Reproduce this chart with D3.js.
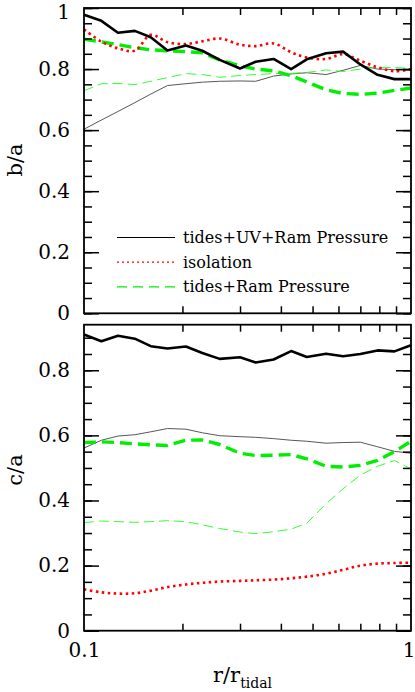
<!DOCTYPE html>
<html>
<head>
<meta charset="utf-8">
<script src="https://cdn.jsdelivr.net/npm/d3@7"></script>
<style>
body { margin: 0; background: #fff; }
</style>
</head>
<body>
<div id="chart"></div>
<script>
// radial bins, r / r_tidal
var rBins = [0.1, 0.113, 0.127, 0.143, 0.16, 0.18, 0.205, 0.23, 0.26, 0.3,
             0.335, 0.38, 0.43, 0.48, 0.55, 0.62, 0.7, 0.79, 0.89, 1.0];

// b/a (top panel)
var baUV      = [0.978, 0.958, 0.919, 0.925, 0.904, 0.861, 0.877, 0.86, 0.83, 0.802,
                 0.824, 0.833, 0.80, 0.832, 0.852, 0.857, 0.815, 0.781, 0.767, 0.767];
var baUVThin  = [0.603, 0.633, 0.661, 0.69, 0.718, 0.746, 0.752, 0.757, 0.76, 0.761,
                 0.76, 0.777, 0.784, 0.788, 0.782, 0.796, 0.812, 0.80, 0.798, 0.797];
var baIso     = [0.93, 0.89, 0.868, 0.86, 0.912, 0.888, 0.882, 0.891, 0.90, 0.88,
                 0.875, 0.884, 0.855, 0.838, 0.833, 0.849, 0.827, 0.806, 0.793, 0.80];
var baRP      = [0.898, 0.889, 0.88, 0.87, 0.863, 0.86, 0.857, 0.853, 0.83, 0.811,
                 0.80, 0.794, 0.778, 0.758, 0.732, 0.72, 0.717, 0.721, 0.73, 0.738];
var baRPThin  = [0.729, 0.752, 0.753, 0.749, 0.76, 0.772, 0.785, 0.782, 0.773, 0.779,
                 0.782, 0.785, 0.786, 0.789, 0.797, 0.792, 0.80, 0.806, 0.805, 0.802];

// c/a (bottom panel)
var caUV      = [0.91, 0.889, 0.906, 0.897, 0.874, 0.867, 0.873, 0.853, 0.835, 0.84,
                 0.824, 0.833, 0.859, 0.841, 0.851, 0.843, 0.85, 0.861, 0.858, 0.877];
var caUVThin  = [0.561, 0.585, 0.598, 0.602, 0.611, 0.621, 0.619, 0.608, 0.599, 0.596,
                 0.594, 0.59, 0.585, 0.582, 0.576, 0.578, 0.579, 0.565, 0.551, 0.545];
var caIso     = [0.127, 0.118, 0.114, 0.115, 0.123, 0.134, 0.142, 0.147, 0.151, 0.153,
                 0.155, 0.157, 0.161, 0.166, 0.175, 0.187, 0.20, 0.206, 0.208, 0.209];
var caRP      = [0.578, 0.58, 0.578, 0.574, 0.571, 0.569, 0.585, 0.586, 0.572, 0.545,
                 0.538, 0.539, 0.541, 0.528, 0.505, 0.503, 0.508, 0.523, 0.55, 0.582];
var caRPThin  = [0.332, 0.337, 0.335, 0.333, 0.335, 0.338, 0.335, 0.325, 0.314, 0.303,
                 0.298, 0.304, 0.312, 0.33, 0.39, 0.436, 0.478, 0.505, 0.523, 0.497];

var yTicksTop = [0, 0.2, 0.4, 0.6, 0.8, 1];
var yTicksBottom = [0, 0.2, 0.4, 0.6, 0.8];
var xMinorTicks = [0.2, 0.3, 0.4, 0.5, 0.6, 0.7, 0.8, 0.9];
var xTickLabels = [0.1, 1];
var legendLabels = ["tides+UV+Ram Pressure", "isolation", "tides+Ram Pressure"];

var width = 415, height = 692;
var font = "'DejaVu Serif', serif";

var svg = d3.select("#chart").append("svg")
    .attr("width", width)
    .attr("height", height)
    .style("font-family", font);

var x = d3.scaleLog().domain([0.1, 1]).range([84, 411]);

// line styles
var styles = {
    uv:     { stroke: "#000", width: 2.6, dash: null },
    uvThin: { stroke: "#444", width: 0.9, dash: null },
    iso:    { stroke: "#ff0000", width: 2.6, dash: "2.5,3.5" },
    rp:     { stroke: "#00ee00", width: 3.4, dash: "12,6" },
    rpThin: { stroke: "#33ff33", width: 1, dash: "10,5" }
};

function fmt(d) {
    if (d === 0) return "0";
    if (d === 1) return "1";
    return d.toFixed(1);
}

function drawPanel(top, bottom, yMax, yTicks, series, showX) {
    var y = d3.scaleLinear().domain([0, yMax]).range([bottom, top]);
    var g = svg.append("g");

    // lines first, frame on top
    var lines = g.append("g");
    series.forEach(function (s) {
        var st = styles[s.style];
        var line = d3.line()
            .x(function (d, i) { return x(rBins[i]); })
            .y(function (d) { return y(d); })
            .curve(s.style === "iso" ? d3.curveCatmullRom : d3.curveLinear);
        lines.append("path")
            .datum(s.values)
            .attr("d", line)
            .attr("fill", "none")
            .attr("stroke", st.stroke)
            .attr("stroke-width", st.width)
            .attr("stroke-dasharray", st.dash)
            .attr("stroke-linejoin", "round");
    });

    var minor = d3.range(0, yMax + 0.001, 0.05);

    // left axis with labels
    g.append("g")
        .attr("transform", "translate(" + x.range()[0] + ",0)")
        .call(d3.axisLeft(y).tickValues(yTicks).tickSize(-15).tickSizeOuter(0).tickPadding(14).tickFormat(fmt));
    g.append("g")
        .attr("transform", "translate(" + x.range()[0] + ",0)")
        .call(d3.axisLeft(y).tickValues(minor).tickSize(-8).tickSizeOuter(0).tickFormat(""));
    // right axis
    g.append("g")
        .attr("transform", "translate(" + x.range()[1] + ",0)")
        .call(d3.axisRight(y).tickValues(yTicks).tickSize(-15).tickSizeOuter(0).tickFormat(""));
    g.append("g")
        .attr("transform", "translate(" + x.range()[1] + ",0)")
        .call(d3.axisRight(y).tickValues(minor).tickSize(-8).tickSizeOuter(0).tickFormat(""));
    // top and bottom x ticks
    g.append("g")
        .attr("transform", "translate(0," + top + ")")
        .call(d3.axisTop(x).tickValues(xMinorTicks).tickSize(-7).tickSizeOuter(0).tickFormat(""));
    g.append("g")
        .attr("transform", "translate(0," + bottom + ")")
        .call(d3.axisBottom(x).tickValues(xMinorTicks).tickSize(-7).tickSizeOuter(0).tickFormat(""));

    if (showX) {
        g.append("g")
            .attr("class", "xlab")
            .attr("transform", "translate(0," + bottom + ")")
            .call(d3.axisBottom(x).tickValues(xTickLabels).tickSize(0).tickSizeOuter(0).tickPadding(12)
                .tickFormat(function (d) { return d === 1 ? "1" : "0.1"; }));
        // keep the "1" inside the window
        g.selectAll(".xlab .tick text")
            .filter(function (d) { return d === 1; })
            .attr("text-anchor", "end")
            .attr("dx", 4);
    }

    g.selectAll(".domain").remove();
    g.selectAll(".tick line").attr("stroke", "#000").attr("stroke-width", 1.5);
    g.selectAll(".tick text")
        .attr("fill", "#000")
        .style("font-family", font)
        .style("font-size", "20px");
    // nudge the top label down so it is not clipped
    g.selectAll(".tick text")
        .filter(function (d) { return d === 1 && yMax === 1; })
        .attr("dy", "0.5em");

    // frame
    g.append("rect")
        .attr("x", x.range()[0])
        .attr("y", top)
        .attr("width", x.range()[1] - x.range()[0])
        .attr("height", bottom - top)
        .attr("fill", "none")
        .attr("stroke", "#000")
        .attr("stroke-width", 1.8);

    return y;
}

drawPanel(8, 313.3, 1, yTicksTop, [
    { values: baUVThin, style: "uvThin" },
    { values: baRPThin, style: "rpThin" },
    { values: baRP, style: "rp" },
    { values: baIso, style: "iso" },
    { values: baUV, style: "uv" }
], false);

drawPanel(324.7, 630.7, 0.94, yTicksBottom, [
    { values: caUVThin, style: "uvThin" },
    { values: caRPThin, style: "rpThin" },
    { values: caRP, style: "rp" },
    { values: caIso, style: "iso" },
    { values: caUV, style: "uv" }
], true);

// legend
var legendStyles = [
    { stroke: "#000", dash: null },
    { stroke: "#ff0000", dash: "2,3" },
    { stroke: "#00ee00", dash: "10,6" }
];
var legend = svg.append("g");
legendLabels.forEach(function (lab, i) {
    var ly = 237.5 + i * 24.7;
    legend.append("line")
        .attr("x1", 117).attr("x2", 175)
        .attr("y1", ly).attr("y2", ly)
        .attr("stroke", legendStyles[i].stroke)
        .attr("stroke-width", 1.2)
        .attr("stroke-dasharray", legendStyles[i].dash);
    legend.append("text")
        .attr("x", 183)
        .attr("y", ly + 5.5)
        .style("font-size", "16px")
        .text(lab);
});

// axis titles
svg.append("text")
    .attr("transform", "translate(22,160) rotate(-90)")
    .attr("text-anchor", "middle")
    .style("font-size", "21px")
    .text("b/a");

svg.append("text")
    .attr("transform", "translate(22,470) rotate(-90)")
    .attr("text-anchor", "middle")
    .style("font-size", "21px")
    .text("c/a");

var xt = svg.append("text")
    .attr("x", 213)
    .attr("y", 681.5)
    .style("font-size", "21px");
xt.append("tspan").text("r/r");
xt.append("tspan")
    .attr("dy", 6)
    .style("font-size", "14px")
    .text("tidal");
</script>
</body>
</html>
